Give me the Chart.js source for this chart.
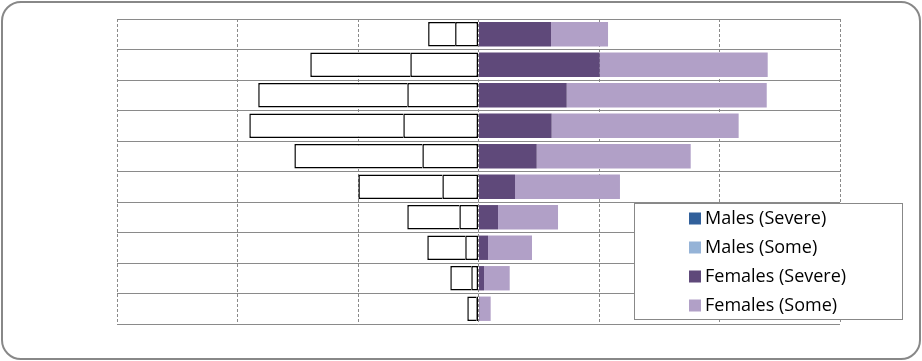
<!DOCTYPE html>
<html>
<head>
<meta charset="utf-8">
<script src="https://cdn.jsdelivr.net/npm/chart.js@4"></script>
<style>
  html, body { margin: 0; padding: 0; background: #ffffff; }
  #wrap { position: relative; width: 922px; height: 361px; }
  #frame { position: absolute; left: 1px; top: 1px; width: 916px; height: 355px;
           border: 2px solid #888888; border-radius: 20px; pointer-events: none; }
  canvas { position: absolute; left: 0; top: 0; }
</style>
</head>
<body>
<div id="wrap">
  <canvas id="c" width="922" height="361"></canvas>
  <div id="frame"></div>
</div>
<script>
// Categories (top to bottom), not displayed in the reference
const categories = ["85+", "75-84", "65-74", "55-64", "45-54", "35-44", "25-34", "15-24", "5-14", "0-4"];
// Males plotted to the left (negative)
const malesSevere = [-19.4, -56.6, -59.1, -62.4, -46.6, -30.0, -15.9, -11.0, -6.0, -1.8];
const malesSome   = [-22.4, -83.0, -123.7, -127.8, -106.2, -69.7, -43.2, -31.5, -17.4, -7.5];
// Females plotted to the right
const femalesSevere = [60.2, 100.6, 73.2, 60.7, 48.3, 30.3, 16.2, 7.9, 4.6, 0.8];
const femalesSome   = [47.3, 139.4, 166.0, 155.2, 127.8, 87.1, 49.8, 36.5, 21.3, 9.3];
const seriesNames = ["Males (Severe)", "Males (Some)", "Females (Severe)", "Females (Some)"];
const legendColors = ["#31609B", "#95B3D7", "#5F497A", "#B1A0C7"];

const boxLegend = {
  id: 'boxLegend',
  afterDraw(chart) {
    const ctx = chart.ctx;
    const x0 = 634.5, y0 = 203.5, w = 268, h = 116;
    ctx.save();
    ctx.fillStyle = '#ffffff';
    ctx.fillRect(x0, y0, w, h);
    ctx.strokeStyle = '#888888';
    ctx.lineWidth = 1;
    ctx.strokeRect(x0, y0, w, h);
    ctx.font = '18px "Open Sans", sans-serif';
    ctx.textBaseline = 'middle';
    chart.data.datasets.forEach((ds, i) => {
      const cy = 218.5 + i * 29;
      ctx.fillStyle = legendColors[i];
      ctx.fillRect(689, cy - 6, 12, 12);
      ctx.fillStyle = '#000000';
      ctx.fillText(ds.label, 705, cy + 0.5);
    });
    ctx.restore();
  }
};

new Chart(document.getElementById('c'), {
  type: 'bar',
  data: {
    labels: categories,
    datasets: [
      { label: seriesNames[0], data: malesSevere, backgroundColor: '#ffffff', borderColor: '#000000',
        borderWidth: 1.5, borderSkipped: false },
      { label: seriesNames[1], data: malesSome, backgroundColor: '#ffffff', borderColor: '#000000',
        borderWidth: 1.5, borderSkipped: 'start' },
      { label: seriesNames[2], data: femalesSevere, backgroundColor: '#5F497A', borderWidth: 0 },
      { label: seriesNames[3], data: femalesSome, backgroundColor: '#B1A0C7', borderWidth: 0 }
    ]
  },
  options: {
    indexAxis: 'y',
    responsive: false,
    animation: false,
    categoryPercentage: 0.8,
    barPercentage: 1.0,
    layout: { padding: { left: 117, right: 82, top: 19, bottom: 37 } },
    plugins: { legend: { display: false }, tooltip: { enabled: false } },
    scales: {
      x: {
        stacked: true, min: -300, max: 300,
        ticks: { display: false, stepSize: 100 },
        border: { display: false, dash: [3, 2] },
        grid: { color: '#8a8a8a', lineWidth: 1, drawTicks: false }
      },
      y: {
        stacked: true,
        ticks: { display: false },
        border: { display: false },
        grid: { color: '#8a8a8a', lineWidth: 1, drawTicks: false, offset: true }
      }
    }
  },
  plugins: [boxLegend]
});
</script>
</body>
</html>
